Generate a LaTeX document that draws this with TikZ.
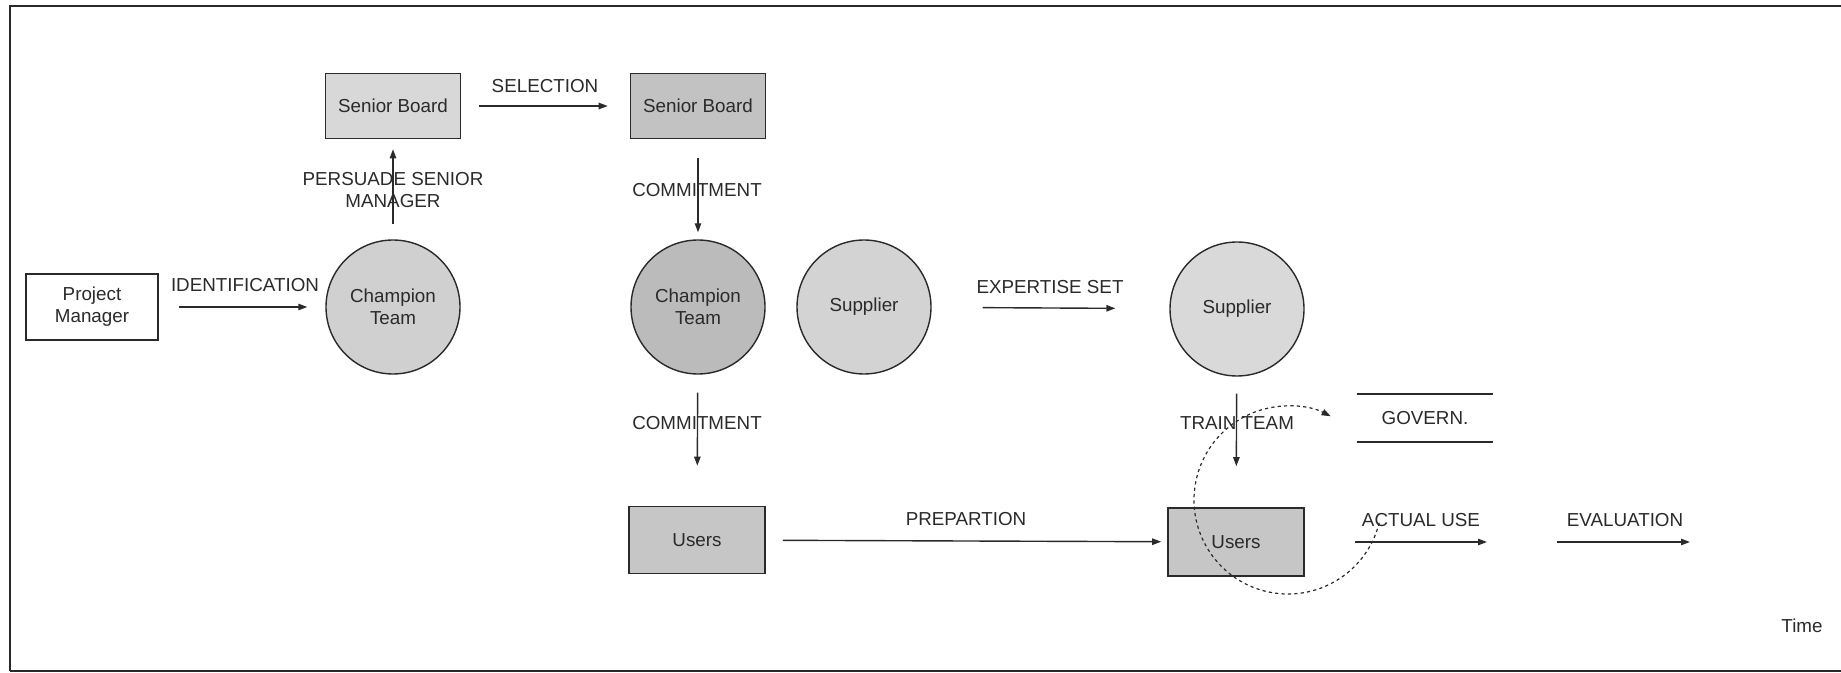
\documentclass[tikz,border=0pt]{standalone}
\usepackage{fontspec}
\setmainfont{Liberation Sans}
\usetikzlibrary{arrows.meta,positioning}
\definecolor{ink}{HTML}{2A2A2A}
\definecolor{sbA}{HTML}{D8D8D8}
\definecolor{sbB}{HTML}{C2C2C2}
\definecolor{ctA}{HTML}{D0D0D0}
\definecolor{ctB}{HTML}{BBBBBB}
\definecolor{supA}{HTML}{D3D3D3}
\definecolor{supB}{HTML}{D9D9D9}
\definecolor{usr}{HTML}{C6C6C6}
\tikzset{
  every node/.style={font=\fontsize{9.4pt}{11pt}\selectfont, text=ink},
  boxnode/.style={draw=ink, line width=0.8pt, inner sep=0pt, minimum width=67.5pt, minimum height=32.5pt, align=center},
  blobnode/.style={draw=ink, line width=0.7pt, circle, inner sep=0pt, minimum size=67pt, align=center},
  lbl/.style={inner sep=0pt, align=center},
  flow/.style={draw=ink, line width=0.7pt, -{Triangle[length=4.5pt,width=3.2pt]}},
  loopflow/.style={draw=ink, line width=0.6pt, dash pattern=on 1.6pt off 1.6pt, -{Triangle[length=4.5pt,width=3.2pt]}},
  framel/.style={draw=ink, line width=1.1pt},
  storeline/.style={draw=ink, line width=0.7pt}
}
\begin{document}
\begin{tikzpicture}[x=0.5pt,y=-0.5pt]
\useasboundingbox (0,0) rectangle (1841,673);
% frame
\draw[framel] (10,671) -- (10,6) -- (1841,6);
\draw[framel, line width=0.8pt] (10,671) -- (1841,671);

% nodes
\node[boxnode, fill=white, minimum width=66pt, minimum height=33pt] (pm) at (92,307) {Project\\Manager};
\node[boxnode, fill=sbA] (sb1) at (393,106) {Senior Board};
\node[boxnode, fill=sbB] (sb2) at (698,106) {Senior Board};
\node[blobnode, fill=ctA] (ct1) at (393,307) {Champion\\Team};
\node[blobnode, fill=ctB] (ct2) at (698,307) {Champion\\Team};
\node[blobnode, fill=supA] (sup1) at (864,307) {Supplier};
\node[blobnode, fill=supB] (sup2) at (1237,309) {Supplier};
\node[boxnode, fill=usr, minimum width=68pt, minimum height=33.5pt] (us1) at (697,540) {Users};
\node[boxnode, fill=usr, minimum width=68pt, minimum height=34pt] (us2) at (1236,542) {Users};
\node[lbl, minimum width=68pt, minimum height=23.5pt] (gov) at (1425,418) {GOVERN.};

% free ends
\coordinate (au1) at (1355,542);
\coordinate (au2) at (1487,542);
\coordinate (ev1) at (1557,542);
\coordinate (ev2) at (1690,542);
\coordinate (dc) at (1288,500);

% labels
\node[lbl] (lsel) at (545,86) {SELECTION};
\node[lbl] (lper) at (393,190) {PERSUADE SENIOR\\MANAGER};
\node[lbl] (lcom1) at (697,190) {COMMITMENT};
\node[lbl] (lid) at (245,285) {IDENTIFICATION};
\node[lbl] (lexp) at (1050,287) {EXPERTISE SET};
\node[lbl] (lcom2) at (697,423) {COMMITMENT};
\node[lbl] (ltrain) at (1237,423) {TRAIN TEAM};
\node[lbl] (lprep) at (966,519) {PREPARTION};
\node[lbl] (lact) at (1421,520) {ACTUAL USE};
\node[lbl] (leval) at (1625,520) {EVALUATION};
\node[lbl] (ltime) at (1802,626) {Time};

% connectors
\draw[flow, shorten <=10pt, shorten >=9pt] (pm) -- (ct1);
\draw[flow, shorten <=7.5pt, shorten >=5pt] (ct1) -- (sb1);
\draw[flow, shorten <=9pt, shorten >=11pt] (sb1) -- (sb2);
\draw[flow, shorten <=9.5pt, shorten >=3.5pt] (sb2) -- (ct2);
\draw[flow, shorten <=9pt, shorten >=20pt] (ct2) -- (us1);
\draw[flow, shorten <=25.5pt, shorten >=27pt] (sup1) -- (sup2);
\draw[flow, shorten <=8.5pt, shorten >=20.5pt] (sup2) -- (us2);
\draw[flow, shorten <=8.5pt, shorten >=3pt] (us1) -- (us2);
\draw[flow] (au1) -- (au2);
\draw[flow] (ev1) -- (ev2);

% data store lines
\draw[storeline] (gov.north west) -- (gov.north east);
\draw[storeline] (gov.south west) -- (gov.south east);

% governing loop
\draw[loopflow] ([shift={(14:94)}]dc) arc[start angle=14, end angle=297, radius=94];
\end{tikzpicture}
\end{document}
